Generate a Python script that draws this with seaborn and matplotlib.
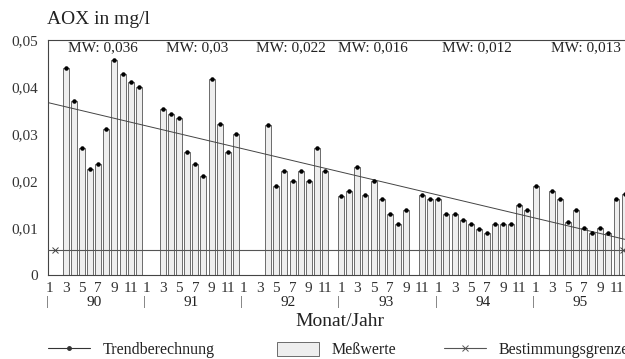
import numpy as np
import pandas as pd
import matplotlib
matplotlib.use('Agg')
import matplotlib.pyplot as plt
import matplotlib.transforms as mtransforms
from matplotlib.lines import Line2D
from matplotlib.patches import Patch
import seaborn as sns

nan = np.nan

# Monatswerte AOX (mg/l), Jan..Dez, nan = kein Messwert
aox_90 = [nan, nan, 0.0440, 0.0370, 0.0270, 0.0225, 0.0237, 0.0310, 0.0457, 0.0427, 0.0410, 0.0400]
aox_91 = [nan, nan, 0.0353, 0.0343, 0.0333, 0.0261, 0.0237, 0.0211, 0.0417, 0.0321, 0.0262, 0.0299]
aox_92 = [nan, nan, nan, 0.0320, 0.0189, 0.0222, 0.0199, 0.0222, 0.0200, 0.0270, 0.0222, nan]
aox_93 = [0.0169, 0.0179, 0.0229, 0.0171, 0.0201, 0.0161, 0.0129, 0.0108, 0.0139, nan, 0.0171, 0.0161]
aox_94 = [0.0161, 0.0129, 0.0129, 0.0116, 0.0108, 0.0098, 0.0089, 0.0109, 0.0109, 0.0109, 0.0149, 0.0138]
aox_95 = [0.0190, nan, 0.0178, 0.0161, 0.0112, 0.0139, 0.0099, 0.0090, 0.0099, 0.0090, 0.0162, 0.0173]

years = ['90', '91', '92', '93', '94', '95']
month_labels = ['1', '3', '5', '7', '9', '11']
mw_labels = ['MW: 0,036', 'MW: 0,03', 'MW: 0,022', 'MW: 0,016', 'MW: 0,012', 'MW: 0,013']
y_ticks = [0, 0.01, 0.02, 0.03, 0.04, 0.05]
y_ticklabels = ['0', '0,01', '0,02', '0,03', '0,04', '0,05']

trend_start = 0.0366   # Trend bei 1/90
trend_end = 0.0076     # Trend bei 12/95
limit = 0.0053         # Bestimmungsgrenze

values = aox_90 + aox_91 + aox_92 + aox_93 + aox_94 + aox_95
df = pd.DataFrame({'monat': np.arange(len(values)), 'aox': values}).dropna()

sns.set_theme(style='white')
plt.rcParams['font.family'] = ['Liberation Serif', 'DejaVu Serif']
plt.rcParams['text.color'] = '#222222'
plt.rcParams['xtick.color'] = '#333333'
plt.rcParams['ytick.color'] = '#333333'

fig = plt.figure(figsize=(6.25, 3.59), dpi=100)
ax = fig.add_axes([48 / 625, 84 / 359, 577 / 625, 235 / 359])

sns.barplot(data=df, x='monat', y='aox', native_scale=True, width=0.74,
            color='#eeeeee', saturation=1, edgecolor='#555555', linewidth=0.6,
            errorbar=None, ax=ax)
ax.scatter(df['monat'], df['aox'], s=5, color='black', zorder=4)

# Trendgerade und Bestimmungsgrenze
ax.axline((0, trend_start), (71, trend_end), color='#444444', lw=0.7, zorder=3)
ax.axhline(limit, color='#555555', lw=0.8, zorder=3)
ax.plot([0.7, 70.8], [limit, limit], ls='none', marker='x', ms=4, mew=0.7, color='#444444', zorder=4)

ax.set_xlim(-0.2, 71.05)
ax.set_ylim(0, 0.05)
ax.set_xticks(range(0, 72, 2))
ax.set_xticklabels(month_labels * 6)
ax.set_yticks(y_ticks)
ax.set_yticklabels(y_ticklabels)
ax.set_xlabel('')
ax.set_ylabel('')
ax.tick_params(axis='x', length=4, width=0.8, direction='out', pad=1, labelsize=11)
ax.tick_params(axis='y', length=5, width=0.8, direction='out', pad=2, labelsize=11)
for s in ['left', 'bottom', 'top']:
    ax.spines[s].set_color('#444444')
    ax.spines[s].set_linewidth(0.8)
ax.spines['right'].set_visible(False)

trans = mtransforms.blended_transform_factory(ax.transData, ax.transAxes)
for i, yr in enumerate(years):
    ax.text(5.5 + 12 * i, -0.115, yr, transform=trans, ha='center', va='center', fontsize=11)
    ax.text(12 * i - 0.3, -0.115, '|', transform=trans, ha='center', va='center', fontsize=9, color='#444444')

mw_x = [6.6, 18.2, 29.8, 39.9, 52.8, 66.2]
for x, lab in zip(mw_x, mw_labels):
    ax.text(x, 0.966, lab, transform=trans, ha='center', va='center', fontsize=11)

fig.text(47 / 625, 1 - 20 / 359, 'AOX in mg/l', ha='left', va='center', fontsize=14)
fig.text(340 / 625, 1 - 321 / 359, 'Monat/Jahr', ha='center', va='center', fontsize=14)

# Legende
leg_y = 1 - 350 / 359
h1 = Line2D([], [], color='#333333', lw=0.8, marker='.', ms=5)
h2 = Patch(facecolor='#eeeeee', edgecolor='#555555', linewidth=0.6)
h3 = Line2D([], [], color='#555555', lw=0.8, marker='x', ms=4, mew=0.7)
items = [(h1, 'Trendberechnung', 48), (h2, 'Meßwerte', 277), (h3, 'Bestimmungsgrenze', 444)]
for h, lab, x0 in items:
    fig.legend([h], [lab], loc='center left', bbox_to_anchor=(x0 / 625, leg_y),
               frameon=False, fontsize=11.5, borderpad=0, borderaxespad=0,
               handlelength=2.6, handleheight=1.05, handletextpad=0.8)

fig.savefig('out.png', dpi=100)
